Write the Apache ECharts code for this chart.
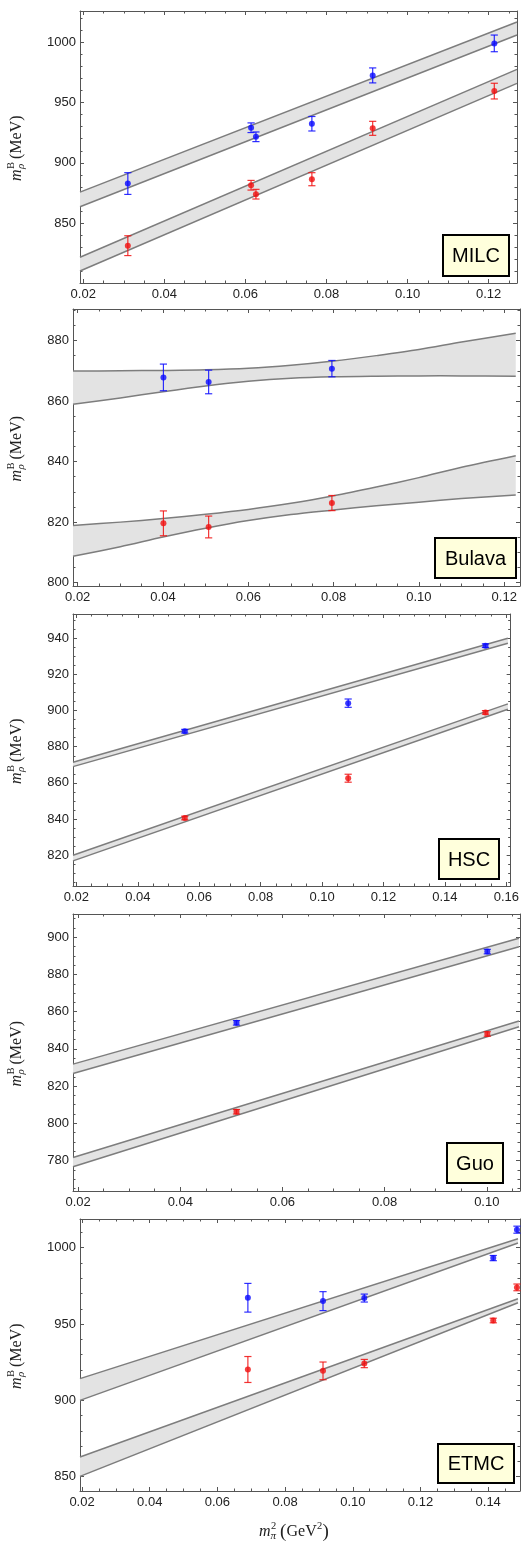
<!DOCTYPE html>
<html><head><meta charset="utf-8">
<script src="https://cdn.jsdelivr.net/npm/echarts@6/dist/echarts.min.js"></script>
<style>html,body{margin:0;padding:0;background:#fff}#c{width:522px;height:1541px}</style>
</head><body><div id="c"></div>
<script>
// ---------- DATA ----------
const panelNames = ['MILC', 'Bulava', 'HSC', 'Guo', 'ETMC'];

// MILC
const milcX = [0.031, 0.0614, 0.0626, 0.0764, 0.0914, 0.1214];
const milcBlue = [882.9, 929.1, 921.6, 932.4, 972.4, 998.9];
const milcBlueErr = [9, 4, 4, 6, 6.2, 6.9];
const milcRed = [831.5, 881.5, 874.1, 886.5, 928.6, 959.4];
const milcRedErr = [8.2, 4, 4, 5.4, 5.8, 6.5];
const milcBandX = [0.0192, 0.127];
const milcBlueHi = [875.8, 1016.6];
const milcBlueLo = [863.7, 1005.8];
const milcRedHi = [821.9, 977.4];
const milcRedLo = [810.5, 965.8];
const milcXTicks = [0.02, 0.04, 0.06, 0.08, 0.10, 0.12];
const milcYTicks = [850, 900, 950, 1000];

// Bulava
const bulX = [0.0401, 0.0507, 0.0796];
const bulBlue = [867.8, 866.3, 870.7];
const bulBlueErr = [4.4, 3.9, 2.7];
const bulRed = [819.6, 818.4, 826.3];
const bulRedErr = [4.1, 3.6, 2.5];
const bulBandX = [0.0189, 0.03, 0.04, 0.05, 0.06, 0.07, 0.08, 0.09, 0.10, 0.11, 0.1227];
const bulBlueHi = [869.9, 870.0, 870.1, 870.3, 870.8, 871.8, 873.2, 875.0, 877.0, 879.5, 882.4];
const bulBlueLo = [858.9, 861.0, 863.1, 865.0, 866.5, 867.5, 868.0, 868.2, 868.3, 868.3, 868.2];
const bulRedHi = [818.9, 820.0, 821.2, 822.6, 824.2, 826.2, 828.7, 831.6, 834.7, 838.1, 841.9];
const bulRedLo = [808.7, 811.9, 815.1, 818.0, 820.5, 822.5, 824.0, 825.4, 826.6, 827.8, 829.0];
const bulXTicks = [0.02, 0.04, 0.06, 0.08, 0.10, 0.12];
const bulYTicks = [800, 820, 840, 860, 880];

// HSC
const hscX = [0.0553, 0.1085, 0.1532];
const hscBlue = [888.6, 904.1, 935.9];
const hscBlueErr = [1, 2.3, 1];
const hscRed = [840.6, 862.6, 899.0];
const hscRedErr = [1, 2.2, 1];
const hscBandX = [0.0189, 0.1605];
const hscBlueHi = [871.4, 940.0];
const hscBlueLo = [869.0, 937.2];
const hscRedHi = [820.0, 903.7];
const hscRedLo = [816.9, 900.7];
const hscXTicks = [0.02, 0.04, 0.06, 0.08, 0.10, 0.12, 0.14, 0.16];
const hscYTicks = [820, 840, 860, 880, 900, 920, 940];

// Guo
const guoX = [0.051, 0.1001];
const guoBlue = [854.0, 892.3];
const guoBlueErr = [1.2, 1.2];
const guoRed = [806.2, 848.0];
const guoRedErr = [1.2, 1.2];
const guoBandX = [0.019, 0.1063];
const guoBlueHi = [831.8, 899.5];
const guoBlueLo = [826.8, 894.9];
const guoRedHi = [781.6, 855.0];
const guoRedLo = [776.6, 851.9];
const guoXTicks = [0.02, 0.04, 0.06, 0.08, 0.10];
const guoYTicks = [780, 800, 820, 840, 860, 880, 900];

// ETMC
const etmcX = [0.069, 0.0912, 0.1034, 0.1415, 0.1485];
const etmcBlue = [967.2, 965.0, 967.0, 993.2, 1011.8];
const etmcBlueErr = [9.4, 6.2, 2.6, 1.7, 2.3];
const etmcRed = [920.2, 919.3, 924.1, 952.3, 974.0];
const etmcRedErr = [8.5, 5.8, 2.7, 1.5, 2.2];
const etmcBandX = [0.0194, 0.1488];
const etmcBlueHi = [914.2, 1005.9];
const etmcBlueLo = [900.0, 1003.1];
const etmcRedHi = [862.9, 966.5];
const etmcRedLo = [850.2, 963.9];
const etmcXTicks = [0.02, 0.04, 0.06, 0.08, 0.10, 0.12, 0.14];
const etmcYTicks = [850, 900, 950, 1000];

// ---------- LAYOUT ----------
const panels = [
  {name: panelNames[0], grid: {left: 80, top: 11, width: 437, height: 272}, xr: [0.0192, 0.127], yr: [800.6, 1025.7], xTicks: milcXTicks, yTicks: milcYTicks, yMinor: 5,
   x: milcX, blue: milcBlue, blueErr: milcBlueErr, red: milcRed, redErr: milcRedErr, bx: milcBandX, bHi: milcBlueHi, bLo: milcBlueLo, rHi: milcRedHi, rLo: milcRedLo,
   box: {x: 443, y: 235, w: 66, h: 41}},
  {name: panelNames[1], grid: {left: 73, top: 309, width: 447, height: 277}, xr: [0.0189, 0.1237], yr: [798.9, 890.4], xTicks: bulXTicks, yTicks: bulYTicks, yMinor: 4,
   x: bulX, blue: bulBlue, blueErr: bulBlueErr, red: bulRed, redErr: bulRedErr, bx: bulBandX, bHi: bulBlueHi, bLo: bulBlueLo, rHi: bulRedHi, rLo: bulRedLo,
   box: {x: 435, y: 538, w: 81, h: 40}},
  {name: panelNames[2], grid: {left: 73, top: 614, width: 440, height: 272}, xr: [0.0189, 0.1614], yr: [803, 953.4], xTicks: hscXTicks, yTicks: hscYTicks, yMinor: 4,
   x: hscX, blue: hscBlue, blueErr: hscBlueErr, red: hscRed, redErr: hscRedErr, bx: hscBandX, bHi: hscBlueHi, bLo: hscBlueLo, rHi: hscRedHi, rLo: hscRedLo,
   box: {x: 439, y: 839, w: 60, h: 40}},
  {name: panelNames[3], grid: {left: 73, top: 914, width: 447, height: 277}, xr: [0.019, 0.1065], yr: [763.6, 912.5], xTicks: guoXTicks, yTicks: guoYTicks, yMinor: 4,
   x: guoX, blue: guoBlue, blueErr: guoBlueErr, red: guoRed, redErr: guoRedErr, bx: guoBandX, bHi: guoBlueHi, bLo: guoBlueLo, rHi: guoRedHi, rLo: guoRedLo,
   box: {x: 447, y: 1143, w: 56, h: 40}},
  {name: panelNames[4], grid: {left: 80, top: 1219, width: 440, height: 272}, xr: [0.0194, 0.1494], yr: [840.6, 1018.8], xTicks: etmcXTicks, yTicks: etmcYTicks, yMinor: 5,
   x: etmcX, blue: etmcBlue, blueErr: etmcBlueErr, red: etmcRed, redErr: etmcRedErr, bx: etmcBandX, bHi: etmcBlueHi, bLo: etmcBlueLo, rHi: etmcRedHi, rLo: etmcRedLo,
   box: {x: 438, y: 1444, w: 76, h: 39}}
];

const AX = '#555';
const BLUE = '#0a0aff';
const RED = '#f01010';
const BAND_FILL = '#e3e3e3';
const BAND_EDGE = '#7d7d7d';

function minorTicks(major, range, n) {
  const step = (major[1] - major[0]) / n, out = [];
  let v = major[0] - step * Math.floor((major[0] - range[0]) / step + 1e-9);
  for (; v <= range[1] + 1e-9; v += step) {
    if (v < range[0] - 1e-9) continue;
    if (major.some(m => Math.abs(m - v) < step * 0.01)) continue;
    out.push(+v.toFixed(6));
  }
  return out;
}

const grids = [], xAxes = [], yAxes = [], series = [], graphics = [];

panels.forEach((p, i) => {
  grids.push(Object.assign({show: false, containLabel: false}, p.grid));
  const xm = minorTicks(p.xTicks, p.xr, 4);
  const ym = minorTicks(p.yTicks, p.yr, p.yMinor);
  [['bottom', true, p.xTicks, 4, true], ['top', false, p.xTicks, 4, true], ['bottom', false, xm, 2.5, false], ['top', false, xm, 2.5, false]]
    .forEach(([pos, lab, vals, len, line]) => {
      xAxes.push({
        type: 'value', gridIndex: i, position: pos, min: p.xr[0], max: p.xr[1],
        splitLine: {show: false},
        axisLine: {show: line, onZero: false, lineStyle: {color: AX, width: 1}},
        axisTick: {show: true, inside: true, length: len, customValues: vals, lineStyle: {color: AX, width: 1}},
        axisLabel: {show: lab, customValues: p.xTicks, formatter: v => v.toFixed(2), margin: 5, color: '#222', fontSize: 13, fontFamily: 'Liberation Sans'}
      });
    });
  [['left', true, p.yTicks, 4, true], ['right', false, p.yTicks, 4, true], ['left', false, ym, 2.5, false], ['right', false, ym, 2.5, false]]
    .forEach(([pos, lab, vals, len, line]) => {
      yAxes.push({
        type: 'value', gridIndex: i, position: pos, min: p.yr[0], max: p.yr[1],
        splitLine: {show: false},
        axisLine: {show: line, onZero: false, lineStyle: {color: AX, width: 1}},
        axisTick: {show: true, inside: true, length: len, customValues: vals, lineStyle: {color: AX, width: 1}},
        axisLabel: {show: lab, customValues: p.yTicks, formatter: v => String(Math.round(v)), margin: 4, color: '#222', fontSize: 13, fontFamily: 'Liberation Sans'}
      });
    });
  const xi = i * 4, yi = i * 4;
  const sm = p.bx.length > 2 ? 0.3 : 0;

  function band(hi, lo) {
    return {
      type: 'custom', xAxisIndex: xi, yAxisIndex: yi, silent: true, z: 1, clip: false,
      data: p.bx.map((x, k) => [x, lo[k], hi[k]]),
      renderItem(params, api) {
        if (params.dataIndex !== 0) return null;
        const up = p.bx.map((x, k) => api.coord([x, hi[k]]));
        const dn = p.bx.map((x, k) => api.coord([x, lo[k]]));
        return {type: 'group', children: [
          {type: 'polygon', shape: {points: up.concat(dn.slice().reverse())}, style: {fill: BAND_FILL}},
          {type: 'polyline', shape: {points: up, smooth: sm}, style: {stroke: BAND_EDGE, lineWidth: 1.5, fill: null}},
          {type: 'polyline', shape: {points: dn, smooth: sm}, style: {stroke: BAND_EDGE, lineWidth: 1.5, fill: null}}
        ]};
      }
    };
  }
  series.push(band(p.bHi, p.bLo));
  series.push(band(p.rHi, p.rLo));

  function errs(vals, errv, color) {
    return {
      type: 'custom', xAxisIndex: xi, yAxisIndex: yi, silent: true, z: 4, clip: false,
      data: p.x.map((x, k) => [x, vals[k], errv[k]]),
      renderItem(params, api) {
        const x = api.value(0), y = api.value(1), e = api.value(2);
        const t = api.coord([x, y + e]), b = api.coord([x, y - e]);
        const c = 3.6;
        const st = {stroke: color, lineWidth: 1.2, opacity: 0.85};
        return {type: 'group', children: [
          {type: 'line', shape: {x1: t[0], y1: t[1], x2: b[0], y2: b[1]}, style: st},
          {type: 'line', shape: {x1: t[0] - c, y1: t[1], x2: t[0] + c, y2: t[1]}, style: st},
          {type: 'line', shape: {x1: b[0] - c, y1: b[1], x2: b[0] + c, y2: b[1]}, style: st}
        ]};
      }
    };
  }
  series.push(errs(p.blue, p.blueErr, BLUE));
  series.push(errs(p.red, p.redErr, RED));
  series.push({type: 'scatter', xAxisIndex: xi, yAxisIndex: yi, symbol: 'circle', symbolSize: 6, z: 5, clip: false, silent: true,
    itemStyle: {color: BLUE}, data: p.x.map((x, k) => [x, p.blue[k]])});
  series.push({type: 'scatter', xAxisIndex: xi, yAxisIndex: yi, symbol: 'circle', symbolSize: 6, z: 5, clip: false, silent: true,
    itemStyle: {color: RED}, data: p.x.map((x, k) => [x, p.red[k]])});

  // label box
  graphics.push({type: 'rect', shape: {x: p.box.x, y: p.box.y, width: p.box.w, height: p.box.h},
    style: {fill: '#ffffdc', stroke: '#000', lineWidth: 2}, z: 10});
  graphics.push({type: 'text', x: p.box.x + p.box.w / 2, y: p.box.y + p.box.h / 2 + 1, z: 11,
    style: {text: p.name, fontSize: 20, fontFamily: 'Liberation Sans', fill: '#000', textAlign: 'center', textVerticalAlign: 'middle'}});

  // y-axis title
  const cy = p.grid.top + p.grid.height / 2;
  const serif = 'Liberation Serif';
  graphics.push({type: 'group', x: 17, y: cy, rotation: Math.PI / 2, z: 10, children: [
    {type: 'text', x: -34, y: 0, style: {text: 'm', fontSize: 16, fontStyle: 'italic', fontFamily: serif, fill: '#222', textAlign: 'left', textVerticalAlign: 'middle'}},
    {type: 'text', x: -22, y: -5.5, style: {text: 'B', fontSize: 10.5, fontFamily: serif, fill: '#222', textAlign: 'left', textVerticalAlign: 'middle'}},
    {type: 'text', x: -22, y: 4.5, style: {text: 'ρ', fontSize: 11, fontStyle: 'italic', fontFamily: serif, fill: '#222', textAlign: 'left', textVerticalAlign: 'middle'}},
    {type: 'text', x: -12, y: 0, style: {text: '(MeV)', fontSize: 16, fontFamily: serif, fill: '#222', textAlign: 'left', textVerticalAlign: 'middle'}}
  ]});
});

// x-axis title (bottom)
(function () {
  const serif = 'Liberation Serif';
  graphics.push({type: 'group', x: 297, y: 1532, z: 10, children: [
    {type: 'text', x: -38, y: 0, style: {text: 'm', fontSize: 16, fontStyle: 'italic', fontFamily: serif, fill: '#222', textAlign: 'left', textVerticalAlign: 'middle'}},
    {type: 'text', x: -26, y: -6, style: {text: '2', fontSize: 10.5, fontFamily: serif, fill: '#222', textAlign: 'left', textVerticalAlign: 'middle'}},
    {type: 'text', x: -26.5, y: 4.5, style: {text: 'π', fontSize: 11, fontStyle: 'italic', fontFamily: serif, fill: '#222', textAlign: 'left', textVerticalAlign: 'middle'}},
    {type: 'text', x: -17, y: 0, style: {text: '(', fontSize: 19, fontFamily: serif, fill: '#222', textAlign: 'left', textVerticalAlign: 'middle'}},
    {type: 'text', x: -10.5, y: 0, style: {text: 'GeV', fontSize: 16, fontFamily: serif, fill: '#222', textAlign: 'left', textVerticalAlign: 'middle'}},
    {type: 'text', x: 20, y: -6, style: {text: '2', fontSize: 10.5, fontFamily: serif, fill: '#222', textAlign: 'left', textVerticalAlign: 'middle'}},
    {type: 'text', x: 25.5, y: 0, style: {text: ')', fontSize: 19, fontFamily: serif, fill: '#222', textAlign: 'left', textVerticalAlign: 'middle'}}
  ]});
})();

const chart = echarts.init(document.getElementById('c'), null, {renderer: 'canvas', width: 522, height: 1541});
chart.setOption({
  animation: false,
  backgroundColor: '#fff',
  grid: grids,
  xAxis: xAxes,
  yAxis: yAxes,
  series: series,
  graphic: {elements: graphics}
});
</script>
</body></html>
